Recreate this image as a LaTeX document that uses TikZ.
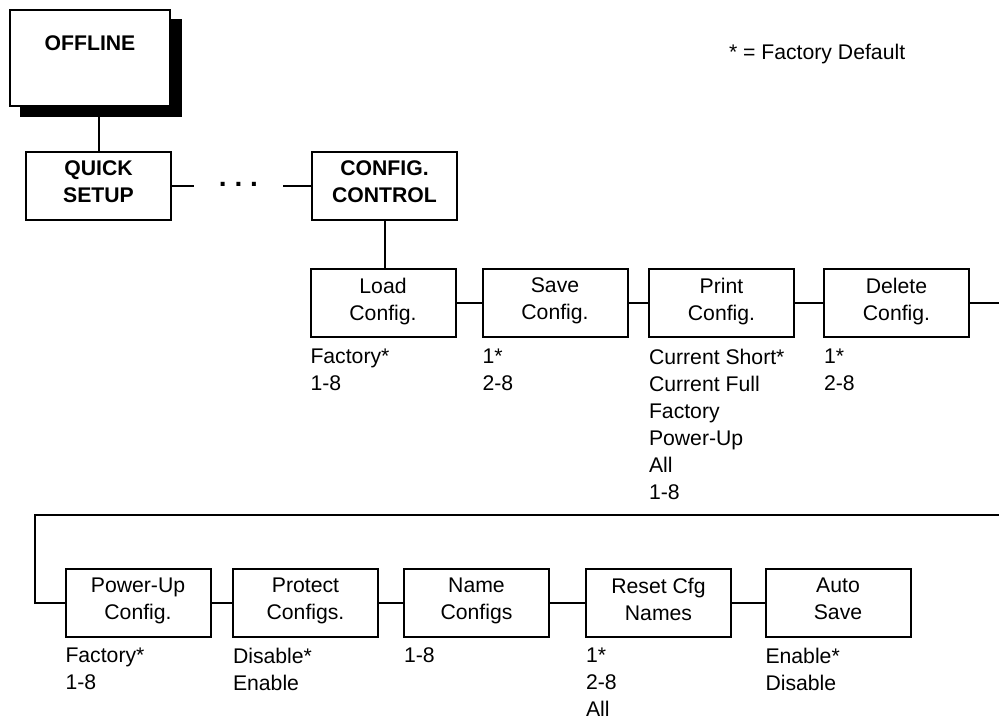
\documentclass[tikz,border=0pt]{standalone}
\usepackage{fontspec}
\setmainfont{Liberation Sans}
\begin{document}
\begin{tikzpicture}[x=0.5pt,y=-0.5pt,line width=1pt,
  font=\fontsize{10.6pt}{13.5pt}\selectfont,
  box/.style={draw, rectangle, align=center, minimum width=72.5pt, minimum height=34pt, inner sep=0pt,
    execute at begin node=\strut, execute at end node=\strut},
  topbox/.style={box, line width=1.15pt, font=\fontsize{10.6pt}{13.5pt}\selectfont\bfseries},
  opts/.style={anchor=north west, align=left, inner sep=0pt}]
\useasboundingbox (0,0) rectangle (999,719);

% top of the menu
\fill (20,19) rectangle (182,117);
\node[draw, line width=1.15pt, fill=white, inner sep=0pt, align=center, font=\fontsize{10.6pt}{13.5pt}\selectfont\bfseries,
  text width=80pt, text height=20pt, text depth=28pt] (offline) at (90,58) {OFFLINE};
\node[topbox] (qs) at (98.5,186) {QUICK\\SETUP};
\node[font=\fontsize{14pt}{14pt}\selectfont\bfseries, inner xsep=12pt, inner ysep=0pt, anchor=base] (dots) at (238.5,186) {.\hspace{0.28em}.\hspace{0.28em}.};
\node[topbox] (cc) at (384.5,186) {CONFIG.\\CONTROL};
\node[anchor=base west, inner sep=0pt] (legend) at (728,59.5) {* = Factory Default};

\draw (qs.north |- offline.south) -- (qs.north);
\draw (qs.east) -- (qs.east -| dots.west);
\draw (cc.west -| dots.east) -- (cc.west);

% first row
\node[box] (load) at (383,303) {Load\\Config.};
\node[box] (save) at (555,303) {Save\\Config.};
\node[box] (print) at (721.5,303) {Print\\Config.};
\node[box] (delete) at (896.5,303) {Delete\\Config.};
\coordinate (rowend) at (999,303);

\node[opts] (loadopt) at ([yshift=-5pt]load.south west) {Factory*\\1-8};
\node[opts] (saveopt) at ([yshift=-5pt]save.south west) {1*\\2-8};
\node[opts] (printopt) at ([yshift=-5pt]print.south west) {Current Short*\\Current Full\\Factory\\Power-Up\\All\\1-8};
\node[opts] (deleteopt) at ([yshift=-5pt]delete.south west) {1*\\2-8};

\draw (cc.south) -- (cc.south |- load.north);
\draw (load) -- (save);
\draw (save) -- (print);
\draw (print) -- (delete);
\draw (delete.east) -- (rowend);

% second row
\coordinate (wrapR) at (999,515);
\coordinate (wrapL) at (35,515);
\node[box] (powerup) at (138,603) {Power-Up\\Config.};
\node[box] (protect) at (305.5,603) {Protect\\Configs.};
\node[box] (names) at (476.5,603) {Name\\Configs};
\node[box] (reset) at (658.5,603) {Reset Cfg\\Names};
\node[box] (autosave) at (838,603) {Auto\\Save};

\node[opts] (powerupopt) at ([yshift=-4.5pt]powerup.south west) {Factory*\\1-8};
\node[opts] (protectopt) at ([yshift=-4.5pt]protect.south west) {Disable*\\Enable};
\node[opts] (namesopt) at ([yshift=-4.5pt]names.south west) {1-8};
\node[opts] (resetopt) at ([yshift=-4.5pt]reset.south west) {1*\\2-8\\All};
\node[opts] (autosaveopt) at ([yshift=-4.5pt]autosave.south west) {Enable*\\Disable};

\draw (wrapR) -- (wrapL) |- (powerup.west);
\draw (powerup) -- (protect);
\draw (protect) -- (names);
\draw (names) -- (reset);
\draw (reset) -- (autosave);
\end{tikzpicture}
\end{document}
